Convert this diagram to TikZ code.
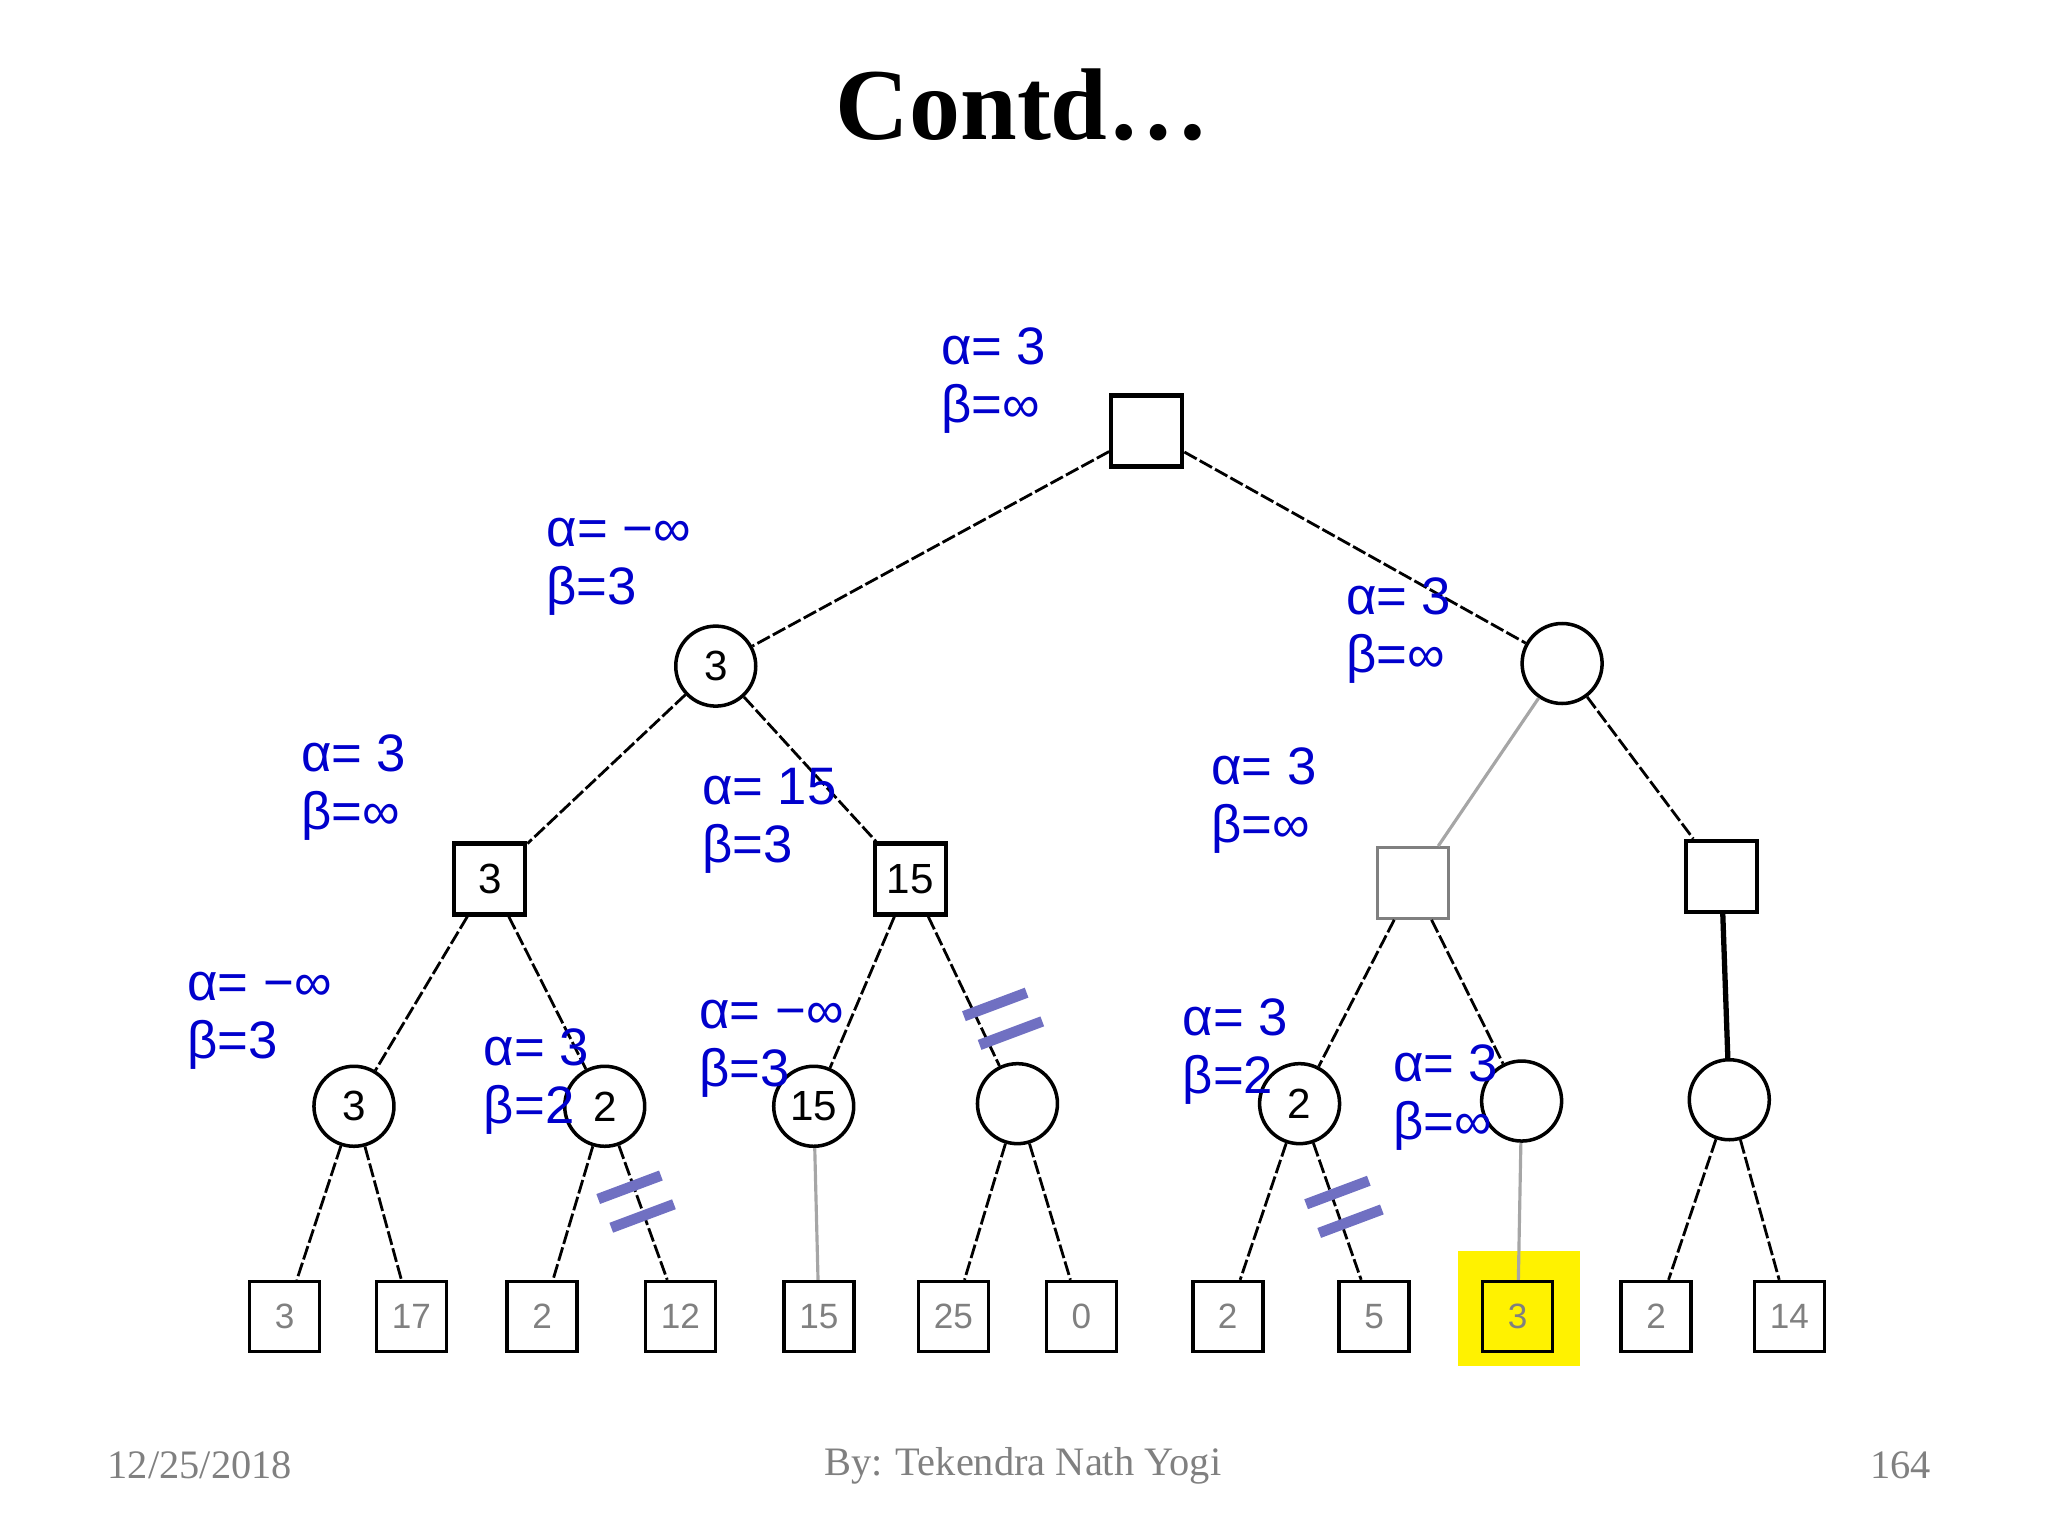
\documentclass[tikz,border=0pt]{standalone}
\usepackage{fontspec}
\setmainfont{Liberation Serif}
\newfontfamily\lab{Liberation Sans}
\begin{document}
\begin{tikzpicture}[x=0.013061cm,y=-0.013061cm,
 sq/.style={draw,line width=1.2pt,minimum size=0.71cm,inner sep=0pt,font=\lab\large},
 lf/.style={draw,line width=1pt,minimum size=0.7cm,inner sep=0pt,font=\lab\normalsize,text=gray},
 ci/.style={draw,circle,line width=1pt,minimum size=0.8cm,inner sep=0pt,font=\lab\large},
 ed/.style={line width=0.8pt,dash pattern=on 4pt off 1pt},
 ge/.style={gray!70,line width=0.9pt},
 ab/.style={text=blue!80!black,font=\lab\fontsize{15}{18.5}\selectfont,align=left,anchor=north west,inner sep=0pt},
 cut/.style={line width=3pt,color=blue!40!gray!80}]
\useasboundingbox (0,0) rectangle (1568,1176);
\node[font=\bfseries\fontsize{29}{34}\selectfont] (title) at (783,80) {Contd…};
\node[sq] (r) at (878,330) {};
\node[ci] (a) at (548,510) {3};
\node[ci] (b) at (1196,508) {};
\node[sq] (c) at (375,673) {3};
\node[sq] (d) at (697,673) {15};
\node[sq,draw=gray,line width=0.8pt] (e) at (1082,676) {};
\node[sq] (f) at (1318,671) {};
\node[ci] (g) at (271,847) {3};
\node[ci] (h) at (463,847) {2};
\node[ci] (i) at (623,847) {15};
\node[ci] (j) at (779,845) {};
\node[ci] (k) at (995,845) {2};
\node[ci] (l) at (1165,843) {};
\node[ci] (m) at (1324,842) {};
\foreach \n/\x/\v in {l1/218/3,l2/315/17,l3/415/2,l4/521/12,l5/627/15,l6/730/25,l7/828/0,l8/940/2,l9/1052/5,l10/1162/3,l11/1268/2,l12/1370/14}
  \node[lf] (\n) at (\x,1008) {\v};
\fill[yellow] (1116,958) rectangle (1210,1046);
\node[lf,fill=yellow] at (l10) {3};
\draw[ed] (r) -- (a); \draw[ed] (r) -- (b);
\draw[ed] (a) -- (c); \draw[ed] (a) -- (d);
\draw[ge] (b) -- (e); \draw[ed] (b) -- (f);
\draw[ed] (c) -- (g); \draw[ed] (c) -- (h);
\draw[ed] (d) -- (i); \draw[ed] (d) -- (j);
\draw[ed] (e) -- (k); \draw[ed] (e) -- (l);
\draw[line width=1.5pt] (f) -- (m);
\draw[ed] (g) -- (l1); \draw[ed] (g) -- (l2);
\draw[ed] (h) -- (l3); \draw[ed] (h) -- (l4);
\draw[ge] (i) -- (l5);
\draw[ed] (j) -- (l6); \draw[ed] (j) -- (l7);
\draw[ed] (k) -- (l8); \draw[ed] (k) -- (l9);
\draw[ge] (l) -- (l10);
\draw[ed] (m) -- (l11); \draw[ed] (m) -- (l12);
\draw[cut] (738,778) -- (786,760); \draw[cut] (750,800) -- (798,782);
\draw[cut] (458,918) -- (506,900); \draw[cut] (468,940) -- (516,922);
\draw[cut] (1000,922) -- (1048,904); \draw[cut] (1010,944) -- (1058,926);
\node[ab] (t1) at (720,250) {α= 3\\[-2pt]β=∞};
\node[ab] (t2) at (418,396) {α= −∞\\[-2pt]β=3};
\node[ab] (t3) at (1030,442) {α= 3\\[-2pt]β=∞};
\node[ab] (t4) at (230,562) {α= 3\\[-2pt]β=∞};
\node[ab] (t5) at (537,588) {α= 15\\[-2pt]β=3};
\node[ab] (t6) at (927,572) {α= 3\\[-2pt]β=∞};
\node[ab] (t7) at (143,744) {α= −∞\\[-2pt]β=3};
\node[ab] (t8) at (370,787) {α= 3\\[-2pt]β=2};
\node[ab] (t9) at (535,765) {α= −∞\\[-2pt]β=3};
\node[ab] (t10) at (905,764) {α= 3\\[-2pt]β=2};
\node[ab] (t11) at (1066,799) {α= 3\\[-2pt]β=∞};
\node[text=gray,font=\fontsize{11.5}{14}\selectfont] (f1) at (153,1122) {12/25/2018};
\node[text=gray,font=\fontsize{11.5}{14}\selectfont] (f2) at (783,1122) {By: Tekendra Nath Yogi};
\node[text=gray,font=\fontsize{11.5}{14}\selectfont] (f3) at (1455,1122) {164};
\end{tikzpicture}
\end{document}
